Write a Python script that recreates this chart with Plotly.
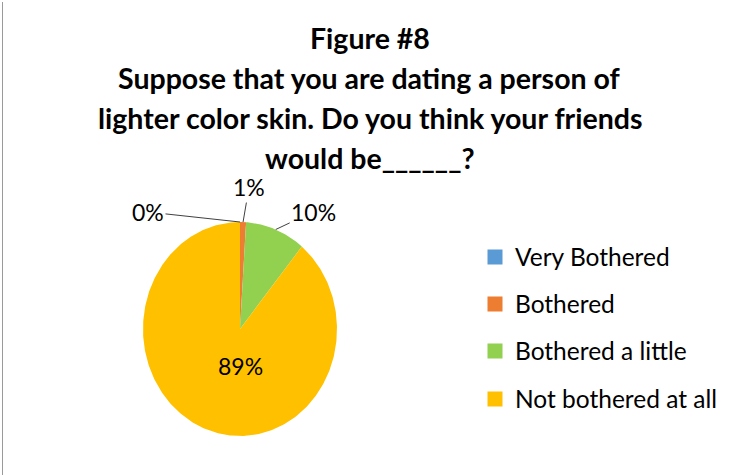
import numpy as np
import plotly.graph_objects as go

# Survey responses (percent of respondents)
categories = ["Very Bothered", "Bothered", "Bothered a little", "Not bothered at all"]
percentages = [0, 1, 10, 89]
colors = ["#5B9BD5", "#ED7D31", "#92D050", "#FFC000"]

title_lines = [
    "Figure #8",
    "Suppose that you are dating a person of",
    "lighter color skin. Do you think your friends",
    "would be______?",
]

W, H = 736, 475
CX, CY = 240, 329      # pie centre in pixels
RX, RY = 97, 107       # pie radii in pixels (slightly tall ellipse)

FONT = "Lato, 'Open Sans', sans-serif"

fig = go.Figure()

# Wedges, clockwise from 12 o'clock
vals = np.array(percentages, dtype=float)
fracs = vals / vals.sum()
starts = np.concatenate([[0], np.cumsum(fracs)[:-1]])
for cat, f0, f, col in zip(categories, starts, fracs, colors):
    t = np.linspace(f0, f0 + f, max(2, int(f * 400) + 2)) * 2 * np.pi
    xs = np.concatenate([[0], np.sin(t), [0]])
    ys = np.concatenate([[0], np.cos(t), [0]])
    fig.add_trace(go.Scatter(
        x=xs, y=ys, mode="lines", fill="toself", fillcolor=col,
        line=dict(width=0, color=col), showlegend=False, hoverinfo="skip",
    ))

# Legend entries, each in its own legend box for wide row spacing
legend_rows = [257, 304, 351, 399]
for i, (cat, col) in enumerate(zip(categories, colors)):
    key = "legend" if i == 0 else f"legend{i + 1}"
    fig.add_trace(go.Scatter(
        x=[None], y=[None], mode="markers", name=cat, legend=key,
        marker=dict(symbol="square", size=15, color=col),
    ))

legend_layout = {}
for i, yc in enumerate(legend_rows):
    key = "legend" if i == 0 else f"legend{i + 1}"
    legend_layout[key] = dict(
        x=475 / W, y=1 - yc / H, xanchor="left", yanchor="middle",
        font=dict(family=FONT, size=24.5, color="#000000"),
        bgcolor="rgba(0,0,0,0)", borderwidth=0,
    )

# Data labels
mids = (starts + fracs / 2) * 2 * np.pi
label_offsets = [(-92, -10), (6, -35), (38, -18)]
annotations = []
for i, (ax, ay) in enumerate(label_offsets):
    ang = starts[i] * 2 * np.pi if percentages[i] == 0 else mids[i]
    annotations.append(dict(
        x=np.sin(ang), y=np.cos(ang), xref="x", yref="y",
        text=f"{percentages[i]:.0f}%", showarrow=True,
        ax=ax, ay=ay, arrowhead=0, arrowwidth=1, arrowcolor="#404040",
        standoff=0, startstandoff=0,
        font=dict(family=FONT, size=23, color="#000000"),
    ))
annotations.append(dict(
    x=0, y=-37 / RY, xref="x", yref="y", text=f"{percentages[3]:.0f}%",
    showarrow=False, font=dict(family=FONT, size=23, color="#000000"),
))

# Title lines
for txt, yc in zip(title_lines, [38, 78, 118, 158]):
    annotations.append(dict(
        x=370 / W, y=1 - yc / H, xref="paper", yref="paper",
        xanchor="center", yanchor="middle", showarrow=False,
        text=f"<b>{txt}</b>",
        font=dict(family=FONT, size=28.5, color="#000000"),
    ))

fig.update_layout(
    width=W, height=H,
    margin=dict(l=0, r=0, t=0, b=0),
    paper_bgcolor="white", plot_bgcolor="white",
    xaxis=dict(range=[-CX / RX, (W - CX) / RX], visible=False, fixedrange=True),
    yaxis=dict(range=[-(H - CY) / RY, CY / RY], visible=False, fixedrange=True),
    annotations=annotations,
    shapes=[dict(type="line", xref="paper", yref="paper",
                 x0=2.5 / W, x1=2.5 / W, y0=0, y1=1 - 2 / H,
                 line=dict(color="#9A9A9A", width=1))],
    **legend_layout,
)

fig.write_html("out.html")
